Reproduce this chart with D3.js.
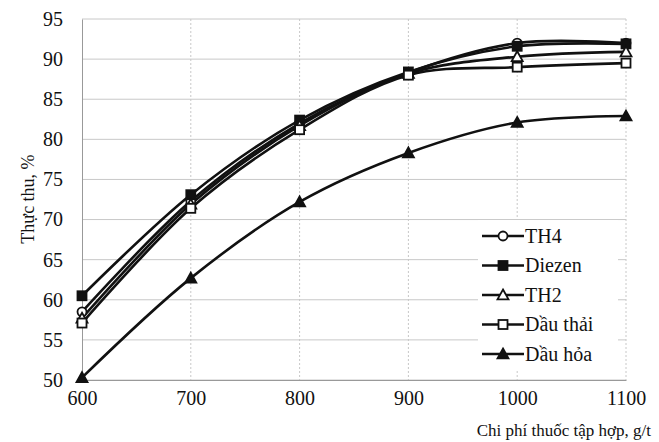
<!DOCTYPE html>
<html>
<head>
<meta charset="utf-8">
<script src="https://cdn.jsdelivr.net/npm/d3@7"></script>
<style>
  html, body { margin: 0; padding: 0; background: #fff; }
  svg { display: block; }
  svg text { font-family: "Liberation Serif", "Times New Roman", serif; fill: #111; }
</style>
</head>
<body>
<svg id="chart" width="659" height="442" font-family="Liberation Serif, serif"></svg>
<script>
// Collector dosage (g/t) and recovery (%) for each reagent
const dosages = [600, 700, 800, 900, 1000, 1100];
const th4     = [58.5, 72.3, 82.0, 88.3, 92.0, 92.0];
const diezen  = [60.5, 73.1, 82.4, 88.4, 91.6, 91.9];
const th2     = [57.7, 71.9, 81.7, 88.2, 90.3, 90.9];
const dauThai = [57.1, 71.4, 81.2, 88.0, 89.0, 89.5];
const dauHoa  = [50.3, 62.7, 72.2, 78.3, 82.1, 82.9];
const yTicks  = [50, 55, 60, 65, 70, 75, 80, 85, 90, 95];
const xTicks  = [600, 700, 800, 900, 1000, 1100];

const seriesNames = ["TH4", "Diezen", "TH2", "Dầu thải", "Dầu hỏa"];
const seriesValues = [th4, diezen, th2, dauThai, dauHoa];
const seriesMarkers = ["circleOpen", "squareFilled", "triangleOpen", "squareOpen", "triangleFilled"];

const SERIF = "Liberation Serif, Times New Roman, serif";
const svg = d3.select("#chart");
const plotLeft = 82, plotRight = 626, plotTop = 19, plotBottom = 380;

const x = d3.scaleLinear().domain([600, 1100]).range([plotLeft, plotRight]);
const y = d3.scaleLinear().domain([50, 95]).range([plotBottom, plotTop]);

// Gridlines: solid horizontal, dotted vertical
svg.append("g").selectAll("line").data(yTicks).join("line")
  .attr("x1", plotLeft).attr("x2", plotRight)
  .attr("y1", d => y(d)).attr("y2", d => y(d))
  .attr("stroke", "#c8c8c8").attr("stroke-width", 1);
svg.append("g").selectAll("line").data(xTicks.slice(1)).join("line")
  .attr("x1", d => x(d)).attr("x2", d => x(d))
  .attr("y1", plotTop).attr("y2", plotBottom)
  .attr("stroke", "#c8c8c8").attr("stroke-width", 1)
  .attr("stroke-dasharray", "2,2");

// Axes
const xAxis = svg.append("g").attr("transform", `translate(0,${plotBottom})`)
  .call(d3.axisBottom(x).tickValues(xTicks).tickFormat(d3.format("d")).tickSize(0).tickPadding(11))
  .attr("font-family", SERIF).attr("font-size", 20);
xAxis.select(".domain").attr("stroke", "#999");
const yAxis = svg.append("g").attr("transform", `translate(${plotLeft},0)`)
  .call(d3.axisLeft(y).tickValues(yTicks).tickFormat(d3.format("d")).tickSize(0).tickPadding(19))
  .attr("font-family", SERIF).attr("font-size", 20);
yAxis.select(".domain").attr("stroke", "#999");
svg.selectAll(".tick text")
  .attr("font-family", SERIF)
  .style("font-size", "20px").style("fill", "#111");

// Axis titles
svg.append("text")
  .attr("transform", `translate(34,199) rotate(-90)`)
  .attr("text-anchor", "middle")
  .attr("font-family", SERIF)
  .style("font-size", "18px")
  .text("Thực thu, %");
svg.append("text")
  .attr("x", 651).attr("y", 436)
  .attr("text-anchor", "end")
  .attr("font-family", SERIF)
  .style("font-size", "17px")
  .text("Chi phí thuốc tập hợp, g/t");

// Marker shapes
function drawMarker(g, type, cx, cy) {
  const filled = type.endsWith("Filled");
  const fill = filled ? "#111" : "#fff";
  if (type.startsWith("circle")) {
    g.append("circle").attr("cx", cx).attr("cy", cy).attr("r", 4.5)
      .attr("fill", fill).attr("stroke", "#111").attr("stroke-width", 1.8);
  } else if (type.startsWith("square")) {
    g.append("rect").attr("x", cx - 4.5).attr("y", cy - 4.5)
      .attr("width", 9).attr("height", 9)
      .attr("fill", fill).attr("stroke", "#111").attr("stroke-width", 1.8);
  } else {
    const s = 5.5;
    g.append("path")
      .attr("d", `M${cx},${cy - s}L${cx + s},${cy + s * 0.8}L${cx - s},${cy + s * 0.8}Z`)
      .attr("fill", fill).attr("stroke", "#111").attr("stroke-width", 1.8);
  }
}

// Smoothed series lines
const line = d3.line()
  .x((d, i) => x(dosages[i]))
  .y(d => y(d))
  .curve(d3.curveCatmullRom.alpha(0.5));

const plot = svg.append("g");
seriesValues.forEach((vals, k) => {
  plot.append("path").datum(vals)
    .attr("d", line)
    .attr("fill", "none").attr("stroke", "#111").attr("stroke-width", 2.6);
});
seriesValues.forEach((vals, k) => {
  const g = plot.append("g");
  vals.forEach((v, i) => drawMarker(g, seriesMarkers[k], x(dosages[i]), y(v)));
});

// Legend
const legend = svg.append("g").attr("font-family", SERIF);
legend.append("rect").attr("x", 478).attr("y", 220).attr("width", 140).attr("height", 150)
  .attr("fill", "#fff");
seriesNames.forEach((name, k) => {
  const ly = 236 + k * 29.5;
  legend.append("line").attr("x1", 482).attr("x2", 524).attr("y1", ly).attr("y2", ly)
    .attr("stroke", "#111").attr("stroke-width", 2.4);
  drawMarker(legend, seriesMarkers[k], 503, ly);
  legend.append("text").attr("x", 525).attr("y", ly + 6.5)
    .attr("font-family", SERIF)
    .style("font-size", "20px").text(name);
});
</script>
</body>
</html>
